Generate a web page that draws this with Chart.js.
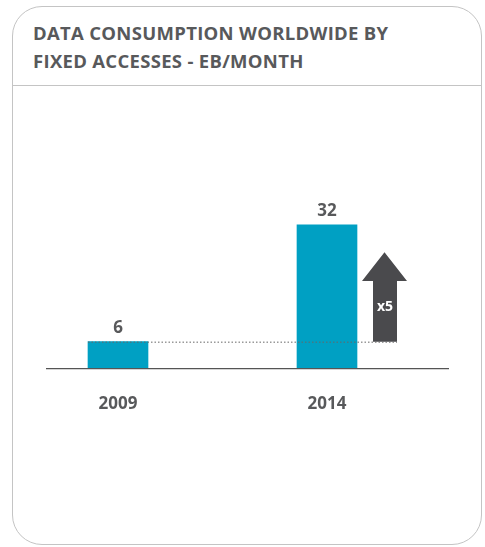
<!DOCTYPE html>
<html>
<head>
<meta charset="utf-8">
<script src="https://cdn.jsdelivr.net/npm/chart.js"></script>
<style>
  html, body { margin: 0; padding: 0; background: #fff; }
  body { width: 485px; height: 547px; position: relative; overflow: hidden; font-family: "Open Sans", sans-serif; }
  .card {
    position: absolute; left: 12px; top: 6px; width: 470px; height: 539px;
    border: 1.5px solid #c4c4c4; border-radius: 30px; box-sizing: border-box;
  }
  .title {
    position: absolute; left: 33px; top: 19px; margin: 0;
    font-size: 18.5px; font-weight: 700; line-height: 28px; color: #58595b;
    letter-spacing: 0.3px;
  }
  .sep { position: absolute; left: 12px; top: 85px; width: 470px; height: 0; border-top: 1.5px solid #c4c4c4; }
  #chart1 { position: absolute; left: 0; top: 0; }
</style>
</head>
<body>
<div class="card"></div>
<h2 class="title">DATA CONSUMPTION WORLDWIDE BY<br>FIXED ACCESSES - EB/MONTH</h2>
<div class="sep"></div>
<canvas id="chart1" width="485" height="547"></canvas>
<script>
const years = ['2009', '2014'];
const consumo = [6, 32];
const factorLabel = 'x5';

const colorBarra = '#00a0c3';
const colorTexto = '#58595b';
const colorFlecha = '#4a4a4d';

// dibuja etiquetas, linea base, linea punteada y flecha
const extras = {
    id: 'extras',
    afterDatasetsDraw(chart) {
        const ctx = chart.ctx;
        const area = chart.chartArea;
        const y = chart.scales.y;
        const bars = chart.getDatasetMeta(0).data;
        const y0 = y.getPixelForValue(0);

        ctx.save();
        // linea base
        ctx.strokeStyle = '#555';
        ctx.lineWidth = 1.2;
        ctx.beginPath();
        ctx.moveTo(area.left + 32.5, y0);
        ctx.lineTo(area.right + 17.5, y0);
        ctx.stroke();

        // valores
        ctx.fillStyle = colorTexto;
        ctx.font = 'bold 17px "Open Sans"';
        ctx.textAlign = 'center';
        ctx.textBaseline = 'bottom';
        bars.forEach(function (b, i) {
            ctx.fillText(String(consumo[i]), b.x, b.y - 5);
        });

        // flecha
        const b2 = bars[1];
        const right = b2.x + b2.width / 2;
        const yBase = y.getPixelForValue(consumo[0]);
        const yHead = y.getPixelForValue(consumo[1] * 0.61);
        const yTip = y.getPixelForValue(consumo[1] * 0.81);
        ctx.fillStyle = colorFlecha;
        ctx.beginPath();
        ctx.moveTo(right + 16, yBase);
        ctx.lineTo(right + 16, yHead);
        ctx.lineTo(right + 5, yHead);
        ctx.lineTo(right + 27.5, yTip);
        ctx.lineTo(right + 50, yHead);
        ctx.lineTo(right + 40, yHead);
        ctx.lineTo(right + 40, yBase);
        ctx.closePath();
        ctx.fill();

        ctx.fillStyle = '#fff';
        ctx.font = 'bold 14px "Open Sans"';
        ctx.textBaseline = 'middle';
        ctx.fillText(factorLabel, right + 28, (yBase + yHead) / 2 - 4);

        // linea punteada
        const b1 = bars[0];
        ctx.strokeStyle = '#666';
        ctx.lineWidth = 1;
        ctx.setLineDash([1.5, 2]);
        ctx.beginPath();
        ctx.moveTo(b1.x - b1.width / 2, yBase + 0.5);
        ctx.lineTo(right + 40, yBase + 0.5);
        ctx.stroke();
        ctx.restore();
    }
};

new Chart(document.getElementById('chart1'), {
    type: 'bar',
    data: {
        labels: years,
        datasets: [{
            data: consumo,
            backgroundColor: colorBarra,
            barThickness: 60
        }]
    },
    options: {
        responsive: false,
        animation: false,
        layout: { padding: { left: 13.5, right: 53.5, top: 189, bottom: 108 } },
        plugins: { legend: { display: false }, tooltip: { enabled: false } },
        scales: {
            x: {
                grid: { display: false, drawTicks: false },
                border: { display: false },
                ticks: {
                    color: colorTexto,
                    padding: 25,
                    font: { family: 'Open Sans', weight: 'bold', size: 17 }
                }
            },
            y: {
                display: false,
                min: 0,
                max: 40
            }
        }
    },
    plugins: [extras]
});
</script>
</body>
</html>
